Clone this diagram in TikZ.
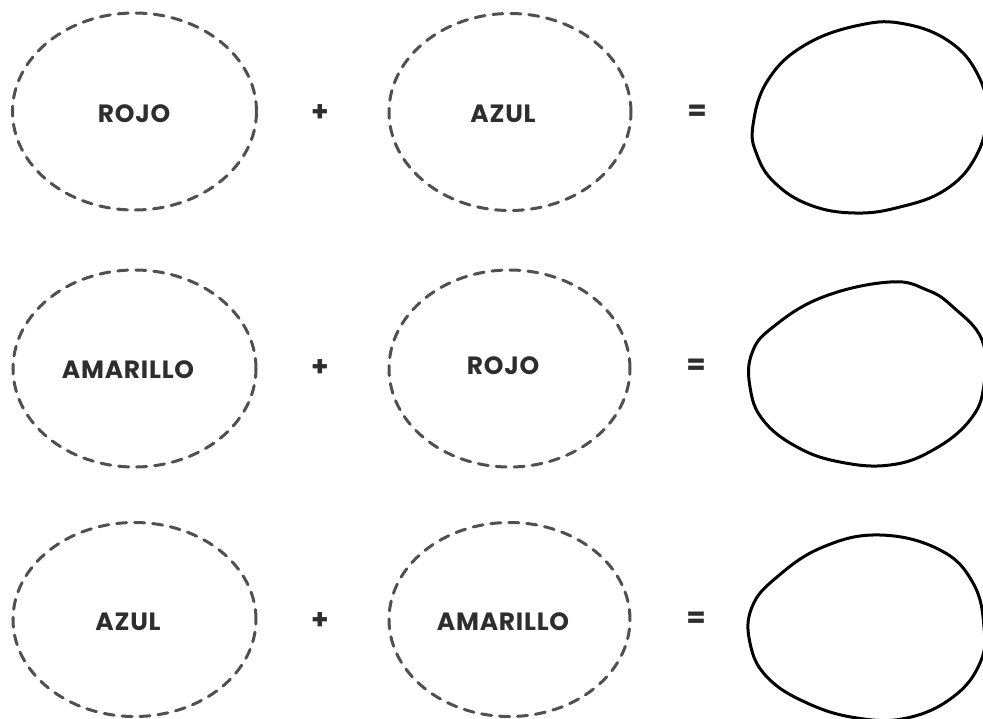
\documentclass[tikz,border=0pt]{standalone}
\usepackage{fontspec}
\setmainfont{Poppins}
\usetikzlibrary{shapes.geometric}
\definecolor{dashgray}{HTML}{505050}
\definecolor{txtgray}{HTML}{2E2E2E}
\tikzset{
  dashell/.style={ellipse, draw=dashgray, line width=3pt, dash pattern=on 10pt off 8pt, line cap=round, inner sep=0pt},
  word/.style={text=txtgray, font=\fontsize{25}{25}\selectfont\bfseries\addfontfeature{LetterSpace=3}, inner sep=0pt},
  sym/.style={text=txtgray, font=\fontsize{28}{28}\selectfont\bfseries, inner sep=0pt},
  answer/.style={draw=black, line width=3pt, line join=round}
}
\begin{document}
\begin{tikzpicture}[x=1pt,y=-1pt]
\useasboundingbox (0,0) rectangle (983,719);
\fill[white] (0,0) rectangle (983,719);
\clip (0,0) rectangle (983,719);
% row 1
\node[dashell, minimum width=244pt, minimum height=197pt] (e11) at (134.5,111.5) {};
\node[dashell, minimum width=242pt, minimum height=197pt] (e12) at (510,112) {};
\node[word] (t11) at (134,114) {ROJO};
\node[word] (t12) at (503,114) {AZUL};
\node[sym] (p1) at (320,113) {+};
\node[sym] (q1) at (697,113) {=};
\draw[answer] plot[smooth cycle, tension=0.7] coordinates {
 (753,125) (768,80) (805,45) (860,25) (905,24) (950,42) (978,75) (987,115)
 (975,158) (945,190) (900,207) (855,213) (810,205) (775,183) (757,155)};
% row 2
\node[dashell, minimum width=243pt, minimum height=197pt] (e21) at (134.5,368.5) {};
\node[dashell, minimum width=241pt, minimum height=197pt] (e22) at (509.5,368.5) {};
\node[word] (t21) at (128,370) {AMARILLO};
\node[word] (t22) at (503,366) {ROJO};
\node[sym] (p2) at (320,368) {+};
\node[sym] (q2) at (696,367) {=};
\draw[answer] plot[smooth cycle, tension=0.7] coordinates {
 (890,282) (823,297) (773,327) (752,353) (750,387) (763,420) (797,447) (840,462)
 (890,465) (933,450) (970,420) (984,385) (982,340) (953,307) (927,290)};
% row 3
\node[dashell, minimum width=243pt, minimum height=194pt] (e31) at (134.5,619.5) {};
\node[dashell, minimum width=241pt, minimum height=194pt] (e32) at (509.5,619.5) {};
\node[word] (t31) at (128,622) {AZUL};
\node[word] (t32) at (503,622) {AMARILLO};
\node[sym] (p3) at (320,621) {+};
\node[sym] (q3) at (696,620) {=};
\draw[answer] plot[smooth cycle, tension=0.7] coordinates {
 (880,535) (823,547) (777,577) (752,607) (750,643) (767,677) (807,703) (857,718)
 (907,718) (953,697) (980,663) (984,627) (973,583) (940,550)};
\end{tikzpicture}
\end{document}
